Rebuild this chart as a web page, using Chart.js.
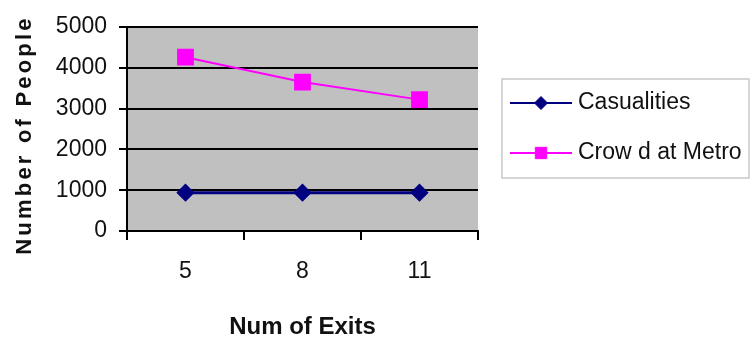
<!DOCTYPE html>
<html>
<head>
<meta charset="utf-8">
<script src="https://cdn.jsdelivr.net/npm/chart.js@4/dist/chart.umd.min.js"></script>
<style>
  html, body { margin: 0; padding: 0; background: #fff; }
  #wrap { width: 750px; height: 343px; position: relative; }
</style>
</head>
<body>
<div id="wrap"><canvas id="c" width="750" height="343"></canvas></div>
<script>
const categories = ['5', '8', '11'];
const casualties = [940, 940, 940];
const crowdAtMetro = [4260, 3650, 3220];
const seriesNames = ['Casualities', 'Crow d at Metro'];
const yTicks = [0, 1000, 2000, 3000, 4000, 5000];
const xTitle = 'Num of Exits';
const yTitle = 'Number of People';

const FONT = '"Liberation Sans", Arial, sans-serif';

const plotBg = {
  id: 'plotBg',
  beforeDraw(chart) {
    const { ctx, chartArea: a } = chart;
    ctx.save();
    ctx.fillStyle = '#c0c0c0';
    ctx.fillRect(a.left, a.top, a.right - a.left, a.bottom - a.top);
    ctx.restore();
  }
};

const boxLegend = {
  id: 'boxLegend',
  afterDraw(chart) {
    const { ctx } = chart;
    const x0 = 502, y0 = 79, w = 247, h = 99;
    ctx.save();
    ctx.strokeStyle = '#c8c8c8';
    ctx.lineWidth = 1.5;
    ctx.strokeRect(x0, y0, w, h);
    chart.data.datasets.forEach((ds, i) => {
      const y = 103 + i * 50;
      ctx.strokeStyle = ds.borderColor;
      ctx.lineWidth = 2;
      ctx.beginPath();
      ctx.moveTo(510, y);
      ctx.lineTo(572, y);
      ctx.stroke();
      ctx.fillStyle = ds.pointBackgroundColor;
      ctx.strokeStyle = ds.pointBackgroundColor;
      ctx.lineWidth = 1;
      Chart.helpers.drawPoint(ctx, {
        pointStyle: ds.pointStyle,
        radius: ds.pointStyle === 'rect' ? 8 : 6.5,
        borderWidth: 1,
        rotation: 0
      }, 541, y);
      ctx.fillStyle = '#111';
      ctx.font = '23px ' + FONT;
      ctx.textBaseline = 'middle';
      ctx.textAlign = 'left';
      ctx.fillText(ds.label, 578, y);
    });
    ctx.restore();
  }
};

function spacedTitle(scale) {
  if (scale._spacedPatched) return;
  scale._spacedPatched = true;
  const orig = Object.getPrototypeOf(scale).drawTitle;
  scale.drawTitle = function () {
    const ctx = this.ctx;
    ctx.save();
    ctx.letterSpacing = '3.2px';
    ctx.translate(0, 6);
    orig.call(this);
    ctx.restore();
  };
}

new Chart(document.getElementById('c'), {
  type: 'line',
  data: {
    labels: categories,
    datasets: [
      {
        label: seriesNames[0],
        data: casualties,
        borderColor: '#000080',
        backgroundColor: '#000080',
        pointBackgroundColor: '#000080',
        pointBorderColor: '#000080',
        borderWidth: 3,
        pointStyle: 'rectRot',
        pointRadius: 7,
        tension: 0
      },
      {
        label: seriesNames[1],
        data: crowdAtMetro,
        borderColor: '#ff00ff',
        backgroundColor: '#ff00ff',
        pointBackgroundColor: '#ff00ff',
        pointBorderColor: '#ff00ff',
        borderWidth: 2,
        pointStyle: 'rect',
        pointRadius: 10.5,
        tension: 0
      }
    ]
  },
  options: {
    responsive: false,
    animation: false,
    devicePixelRatio: 1,
    layout: { padding: { top: 27, right: 272, bottom: 0, left: 0 } },
    plugins: {
      legend: { display: false },
      tooltip: { enabled: false }
    },
    scales: {
      x: {
        type: 'category',
        offset: true,
        afterFit(scale) { scale.height = 112; },
        grid: {
          offset: true,
          drawOnChartArea: false,
          drawTicks: true,
          tickLength: 9,
          color: '#000',
          lineWidth: 2
        },
        border: { display: true, color: '#000', width: 2 },
        ticks: {
          color: '#111',
          padding: 18,
          maxRotation: 0,
          font: { family: FONT, size: 23 }
        },
        title: {
          display: true,
          text: xTitle,
          color: '#111',
          padding: { top: 0, bottom: 1 },
          font: { family: FONT, size: 24, weight: 'bold' }
        }
      },
      y: {
        min: 0,
        max: 5000,
        afterFit(scale) { scale.width = 127; spacedTitle(scale); },
        afterBuildTicks(scale) { scale.ticks = yTicks.map(v => ({ value: v })); },
        grid: {
          color: '#000',
          lineWidth: 2,
          drawTicks: true,
          tickLength: 8
        },
        border: { display: true, color: '#000', width: 2 },
        ticks: {
          color: '#111',
          padding: 12,
          font: { family: FONT, size: 23 },
          callback: (v) => String(v)
        },
        title: {
          display: true,
          text: yTitle,
          color: '#111',
          padding: { top: 12, bottom: 0 },
          font: { family: FONT, size: 22, weight: 'bold' }
        }
      }
    }
  },
  plugins: [plotBg, boxLegend]
});
</script>
</body>
</html>
